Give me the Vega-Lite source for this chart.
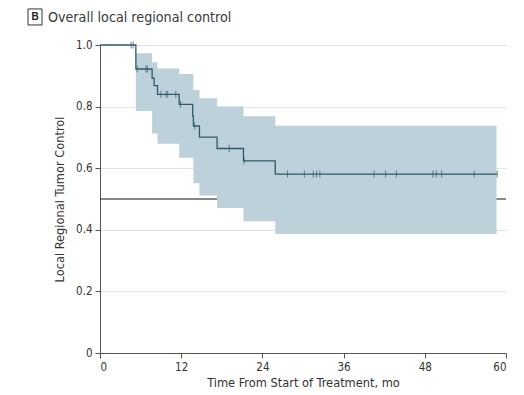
{
  "$schema": "https://vega.github.io/schema/vega-lite/v6.json",
  "width": 406,
  "height": 308,
  "autosize": "none",
  "padding": {"left": 100, "top": 45, "right": 18, "bottom": 42},
  "background": "white",
  "config": {
    "view": {"stroke": null},
    "axis": {
      "labelFont": "DejaVu Sans Condensed, Liberation Sans, sans-serif",
      "titleFont": "DejaVu Sans Condensed, Liberation Sans, sans-serif",
      "labelFontSize": 11.5,
      "titleFontSize": 12.7,
      "titleFontWeight": "normal",
      "labelColor": "#333",
      "titleColor": "#333",
      "domainColor": "#555",
      "tickColor": "#555",
      "gridColor": "#e2e2e2"
    }
  },
  "datasets": {
    "km": [
      {"t": 0, "s": 1.0},
      {"t": 5.3, "s": 0.922},
      {"t": 7.7, "s": 0.892},
      {"t": 8.0, "s": 0.868},
      {"t": 8.5, "s": 0.84},
      {"t": 11.7, "s": 0.807},
      {"t": 13.7, "s": 0.769},
      {"t": 13.8, "s": 0.737},
      {"t": 14.7, "s": 0.701},
      {"t": 17.3, "s": 0.664},
      {"t": 21.2, "s": 0.624},
      {"t": 25.9, "s": 0.581},
      {"t": 58.7, "s": 0.581}
    ],
    "ci": [
      {"t": 5.3, "lo": 0.786, "hi": 0.973},
      {"t": 7.7, "lo": 0.713, "hi": 0.944},
      {"t": 8.5, "lo": 0.679, "hi": 0.924},
      {"t": 11.7, "lo": 0.634, "hi": 0.906},
      {"t": 13.8, "lo": 0.551, "hi": 0.854},
      {"t": 14.7, "lo": 0.511, "hi": 0.827},
      {"t": 17.3, "lo": 0.471, "hi": 0.8},
      {"t": 21.2, "lo": 0.428, "hi": 0.769},
      {"t": 25.9, "lo": 0.386, "hi": 0.738},
      {"t": 58.6, "lo": 0.386, "hi": 0.738}
    ],
    "cens": [
      {"t": 4.6, "s": 1.0}, {"t": 4.9, "s": 1.0},
      {"t": 5.5, "s": 0.922}, {"t": 6.8, "s": 0.922}, {"t": 7.0, "s": 0.922},
      {"t": 9.0, "s": 0.84}, {"t": 9.75, "s": 0.84}, {"t": 10.0, "s": 0.84}, {"t": 11.2, "s": 0.84},
      {"t": 11.9, "s": 0.807},
      {"t": 14.0, "s": 0.737},
      {"t": 19.1, "s": 0.664},
      {"t": 21.3, "s": 0.624},
      {"t": 27.7, "s": 0.581}, {"t": 30.2, "s": 0.581}, {"t": 31.5, "s": 0.581}, {"t": 32.0, "s": 0.581}, {"t": 32.5, "s": 0.581},
      {"t": 40.5, "s": 0.581}, {"t": 42.2, "s": 0.581}, {"t": 43.8, "s": 0.581},
      {"t": 49.2, "s": 0.581}, {"t": 49.7, "s": 0.581}, {"t": 50.5, "s": 0.581},
      {"t": 55.3, "s": 0.581}, {"t": 58.7, "s": 0.581}
    ],
    "ref": [{"t0": 0, "t1": 60, "v": 0.5}],
    "panel": [{"label": "B", "title": "Overall local regional control"}]
  },
  "layer": [
    {
      "data": {"name": "ref"},
      "mark": {"type": "rule", "color": "#111", "strokeWidth": 1},
      "encoding": {
        "x": {"field": "t0", "type": "quantitative", "scale": {"domain": [0, 60]},
          "axis": {"values": [0, 12, 24, 36, 48, 60], "title": "Time From Start of Treatment, mo", "grid": false, "tickSize": 5, "labelPadding": 3, "titlePadding": 4}},
        "x2": {"field": "t1"},
        "y": {"field": "v", "type": "quantitative", "scale": {"domain": [0, 1]},
          "axis": {"values": [0, 0.2, 0.4, 0.6, 0.8, 1.0], "labelExpr": "datum.value == 0 ? '0' : format(datum.value, '.1f')", "title": "Local Regional Tumor Control", "grid": true, "tickSize": 5, "labelPadding": 3, "titlePadding": 9}}
      }
    },
    {
      "data": {"name": "ci"},
      "mark": {"type": "area", "interpolate": "step-after", "color": "#bcd1da", "opacity": 1},
      "encoding": {
        "x": {"field": "t", "type": "quantitative"},
        "y": {"field": "lo", "type": "quantitative"},
        "y2": {"field": "hi"}
      }
    },
    {
      "data": {"name": "km"},
      "mark": {"type": "line", "interpolate": "step-after", "color": "#2f5b69", "strokeWidth": 1.3},
      "encoding": {
        "x": {"field": "t", "type": "quantitative"},
        "y": {"field": "s", "type": "quantitative"}
      }
    },
    {
      "data": {"name": "cens"},
      "mark": {"type": "tick", "orient": "vertical", "color": "#2f5b69", "size": 7, "thickness": 1},
      "encoding": {
        "x": {"field": "t", "type": "quantitative"},
        "y": {"field": "s", "type": "quantitative"}
      }
    },
    {
      "data": {"name": "panel"},
      "mark": {"type": "rect", "fill": "white", "stroke": "#333", "strokeWidth": 1},
      "encoding": {
        "x": {"datum": -10.64},
        "x2": {"datum": -8.57},
        "y": {"datum": 1.117},
        "y2": {"datum": 1.065}
      }
    },
    {
      "data": {"name": "panel"},
      "mark": {"type": "text", "font": "Liberation Sans", "fontSize": 10, "fontWeight": "bold", "color": "#222", "align": "center", "baseline": "middle"},
      "encoding": {
        "x": {"datum": -9.6},
        "y": {"datum": 1.091},
        "text": {"field": "label"}
      }
    },
    {
      "data": {"name": "panel"},
      "mark": {"type": "text", "font": "DejaVu Sans Condensed, Liberation Sans, sans-serif", "fontSize": 14.2, "color": "#3a3a3a", "align": "left", "baseline": "alphabetic"},
      "encoding": {
        "x": {"datum": -7.7},
        "y": {"datum": 1.075},
        "text": {"field": "title"}
      }
    }
  ]
}
